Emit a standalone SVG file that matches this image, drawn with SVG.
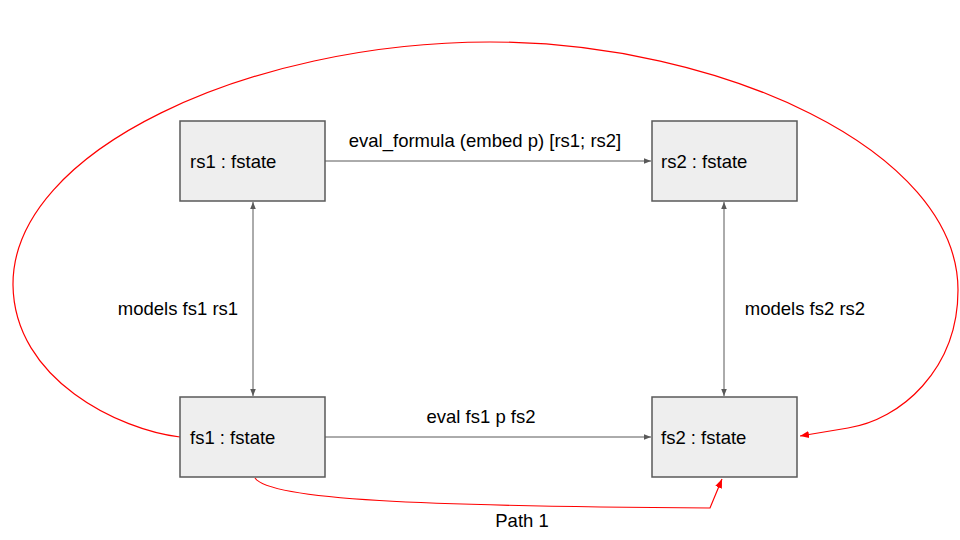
<svg xmlns="http://www.w3.org/2000/svg" width="960" height="540" viewBox="0 0 960 540">
<defs>
<style>
.box{fill:#eeeeee;stroke:#595959;stroke-width:1.5}
.t{font-family:"Liberation Sans",Arial,sans-serif;font-size:18.5px;fill:#000}
.g{stroke:#595959;stroke-width:1;fill:none}
.r{stroke:#ff0000;stroke-width:1.2;fill:none}
</style>
<marker id="ag" viewBox="0 0 10 10" refX="10" refY="5" markerWidth="7" markerHeight="7" orient="auto-start-reverse" markerUnits="userSpaceOnUse"><path d="M0,1 L10,5 L0,9 z" fill="#595959"/></marker>
<marker id="ar" viewBox="0 0 10 10" refX="10" refY="5" markerWidth="9" markerHeight="9" orient="auto" markerUnits="userSpaceOnUse"><path d="M0,1 L10,5 L0,9 z" fill="#ff0000"/></marker>
</defs>
<g id="connectors">
<line class="g" x1="325" y1="161" x2="651" y2="161" marker-end="url(#ag)"/>
<line class="g" x1="325" y1="437" x2="651" y2="437" marker-end="url(#ag)"/>
<line class="g" x1="253" y1="202" x2="253" y2="396" marker-start="url(#ag)" marker-end="url(#ag)"/>
<line class="g" x1="724" y1="202" x2="724" y2="396" marker-start="url(#ag)" marker-end="url(#ag)"/>
<path class="r" d="M180,437 C120,430 14,380 13,285 C12,150 250,42 490,42 C720,42 958,150 958,290 C958,370 900,420 848,428 L800,436" marker-end="url(#ar)"/>
<path class="r" d="M255,478 C270,500 420,506 710,508 L722,479" marker-end="url(#ar)"/>
</g>
<g id="rs1"><rect class="box" x="180" y="121" width="145" height="80"/><text class="t" x="190" y="168">rs1 : fstate</text></g>
<g id="rs2"><rect class="box" x="652" y="121" width="145" height="80"/><text class="t" x="661" y="168">rs2 : fstate</text></g>
<g id="fs1"><rect class="box" x="180" y="397" width="145" height="80"/><text class="t" x="190" y="444">fs1 : fstate</text></g>
<g id="fs2"><rect class="box" x="652" y="397" width="145" height="80"/><text class="t" x="661" y="444">fs2 : fstate</text></g>
<g id="labels">
<text class="t" x="485" y="147" text-anchor="middle">eval_formula (embed p) [rs1; rs2]</text>
<text class="t" x="178" y="315" text-anchor="middle">models fs1 rs1</text>
<text class="t" x="805" y="315" text-anchor="middle">models fs2 rs2</text>
<text class="t" x="481" y="423" text-anchor="middle">eval fs1 p fs2</text>
<text class="t" x="522" y="527" text-anchor="middle">Path 1</text>
</g>
</svg>
